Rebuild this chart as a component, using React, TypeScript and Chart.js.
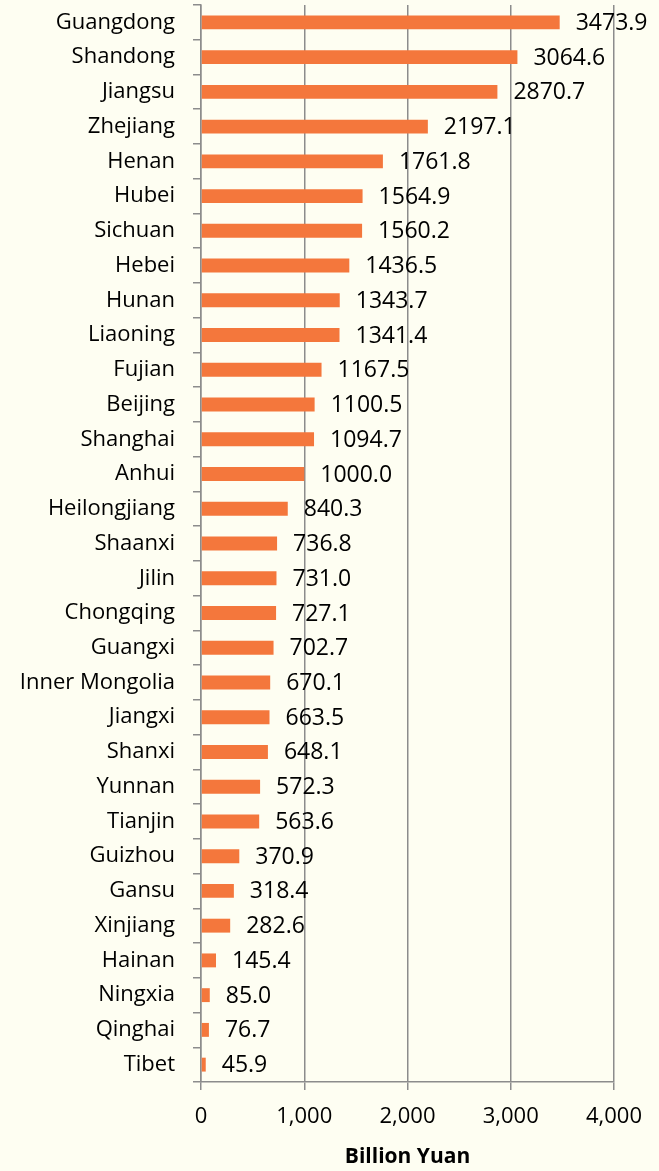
import React, { useEffect, useRef } from "react";
import { Chart, registerables } from "chart.js";

Chart.register(...registerables);

const provinces = [
  "Guangdong", "Shandong", "Jiangsu", "Zhejiang", "Henan", "Hubei", "Sichuan", "Hebei",
  "Hunan", "Liaoning", "Fujian", "Beijing", "Shanghai", "Anhui", "Heilongjiang", "Shaanxi",
  "Jilin", "Chongqing", "Guangxi", "Inner Mongolia", "Jiangxi", "Shanxi", "Yunnan", "Tianjin",
  "Guizhou", "Gansu", "Xinjiang", "Hainan", "Ningxia", "Qinghai", "Tibet",
];

const values = [
  3473.9, 3064.6, 2870.7, 2197.1, 1761.8, 1564.9, 1560.2, 1436.5,
  1343.7, 1341.4, 1167.5, 1100.5, 1094.7, 1000.0, 840.3, 736.8,
  731.0, 727.1, 702.7, 670.1, 663.5, 648.1, 572.3, 563.6,
  370.9, 318.4, 282.6, 145.4, 85.0, 76.7, 45.9,
];

const xMin = 0;
const xMax = 4000;
const xStep = 1000;
const axisTitle = "Billion Yuan";

const FONT = "'Open Sans', sans-serif";
const BAR = "#F4773C";
const GRID = "#8c8c8c";
const BG = "#FEFEF2";

const valueLabels = {
  id: "valueLabels",
  afterDatasetsDraw(chart: any) {
    const ctx = chart.ctx;
    const meta = chart.getDatasetMeta(0);
    ctx.save();
    ctx.font = `23px ${FONT}`;
    ctx.fillStyle = "#000";
    ctx.textAlign = "left";
    ctx.textBaseline = "middle";
    meta.data.forEach((el: any, i: number) => {
      ctx.fillText(values[i].toFixed(1), el.x + 16, el.y + 1);
    });
    ctx.restore();
  },
};

export default function App() {
  const ref = useRef<HTMLCanvasElement | null>(null);
  useEffect(() => {
    if (!ref.current) return;
    const chart = new Chart(ref.current, {
      type: "bar",
      data: {
        labels: provinces,
        datasets: [
          {
            data: values,
            backgroundColor: BAR,
            borderWidth: 0,
            barPercentage: 0.4,
            categoryPercentage: 1,
          },
        ],
      },
      options: {
        indexAxis: "y",
        animation: false,
        responsive: true,
        maintainAspectRatio: false,
        layout: { padding: { top: 5, right: 45, left: 0, bottom: 0 } },
        plugins: { legend: { display: false }, tooltip: { enabled: false } },
        scales: {
          x: {
            min: xMin,
            max: xMax,
            ticks: {
              stepSize: xStep,
              font: { family: FONT, size: 22 },
              color: "#000",
              padding: 14,
              maxRotation: 0,
              callback: (v: any) => Number(v).toLocaleString("en-US"),
            },
            grid: { color: GRID, lineWidth: 1.5, tickLength: 8, drawTicks: true },
            border: { color: GRID, width: 1.5 },
            title: {
              display: true,
              text: axisTitle,
              font: { family: FONT, size: 21, weight: "bold" },
              color: "#000",
              padding: { top: 0, bottom: 1 },
            },
            afterFit: (s: any) => {
              s.height = 89;
              s.paddingLeft = 0;
              s.paddingRight = 0;
            },
          },
          y: {
            ticks: {
              font: { family: FONT, size: 22 },
              color: "#000",
              padding: 18,
              autoSkip: false,
            },
            grid: {
              drawOnChartArea: false,
              drawTicks: true,
              tickLength: 8,
              color: GRID,
              lineWidth: 1.5,
              offset: true,
            },
            border: { color: GRID, width: 1.5 },
            afterFit: (s: any) => {
              s.width = 201;
              s.paddingTop = 0;
              s.paddingBottom = 0;
            },
          },
        },
      },
      plugins: [valueLabels],
    });
    return () => chart.destroy();
  }, []);
  return (
    <div style={{ position: "fixed", left: 0, top: 0, width: 659, height: 1171, background: BG }}>
      <canvas ref={ref} />
    </div>
  );
}
